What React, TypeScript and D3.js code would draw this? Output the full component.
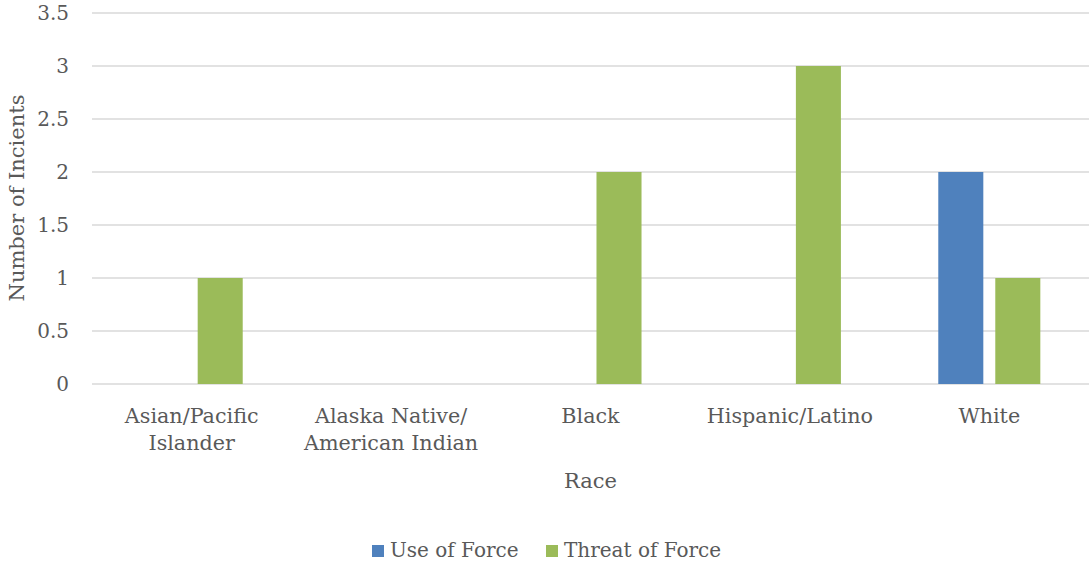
import React, { useEffect, useRef } from "react";
import * as d3 from "d3";

const categories = [
  "Asian/Pacific\nIslander",
  "Alaska Native/\nAmerican Indian",
  "Black",
  "Hispanic/Latino",
  "White",
];
const seriesNames = ["Use of Force", "Threat of Force"];
const useOfForce = [0, 0, 0, 0, 2];
const threatOfForce = [1, 0, 2, 3, 1];
const yTicks = [0, 0.5, 1, 1.5, 2, 2.5, 3, 3.5];
const colors = ["#4F81BD", "#9BBB59"];

const App: React.FC = () => {
  const svgRef = useRef<SVGSVGElement>(null);

  useEffect(() => {
    if (!svgRef.current) return;
    const width = 1089;
    const height = 564;
    const margin = { top: 13, right: 0, bottom: 180, left: 92 };
    const innerWidth = width - margin.left - margin.right;
    const innerHeight = height - margin.top - margin.bottom;
    const font = "'DejaVu Serif', serif";
    const textColor = "#595959";

    d3.select(svgRef.current).selectAll("*").remove();
    const root = d3
      .select(svgRef.current)
      .attr("width", width)
      .attr("height", height)
      .style("font-family", font);

    const svg = root
      .append("g")
      .attr("transform", `translate(${margin.left},${margin.top})`);

    const x = d3.scaleBand<string>().domain(categories).range([0, innerWidth]);
    const xSeries = d3
      .scaleBand<string>()
      .domain(seriesNames)
      .range([0, x.bandwidth()])
      .paddingInner(0.21)
      .paddingOuter(0.854);
    const y = d3.scaleLinear().domain([0, 3.5]).range([innerHeight, 0]);

    // gridlines
    svg
      .selectAll("line.grid")
      .data(yTicks)
      .enter()
      .append("line")
      .attr("x1", 0)
      .attr("x2", innerWidth)
      .attr("y1", (d) => y(d))
      .attr("y2", (d) => y(d))
      .attr("stroke", "#D9D9D9")
      .attr("stroke-width", 1.5);

    // y tick labels
    svg
      .selectAll("text.ytick")
      .data(yTicks)
      .enter()
      .append("text")
      .attr("x", -23)
      .attr("y", (d) => y(d))
      .attr("dy", "0.36em")
      .attr("text-anchor", "end")
      .attr("fill", textColor)
      .style("font-size", "20px")
      .text((d) => String(d));

    // bars
    const seriesValues = [useOfForce, threatOfForce];
    seriesNames.forEach((name, si) => {
      svg
        .append("g")
        .selectAll("rect")
        .data(categories.map((c, i) => ({ c, v: seriesValues[si][i] })))
        .enter()
        .filter((d) => d.v > 0)
        .append("rect")
        .attr("x", (d) => (x(d.c) || 0) + (xSeries(name) || 0))
        .attr("width", xSeries.bandwidth())
        .attr("y", (d) => y(d.v))
        .attr("height", (d) => innerHeight - y(d.v))
        .attr("fill", colors[si]);
    });

    // x labels
    categories.forEach((c) => {
      const cx = (x(c) || 0) + x.bandwidth() / 2;
      const t = svg
        .append("text")
        .attr("x", cx)
        .attr("y", innerHeight + 39)
        .attr("text-anchor", "middle")
        .attr("fill", textColor)
        .style("font-size", "20.7px");
      c.split("\n").forEach((line, li) => {
        t.append("tspan")
          .attr("x", cx)
          .attr("dy", li === 0 ? 0 : 27)
          .text(line);
      });
    });

    // x axis title
    root
      .append("text")
      .attr("x", margin.left + innerWidth / 2)
      .attr("y", 488)
      .attr("text-anchor", "middle")
      .attr("fill", textColor)
      .style("font-size", "21px")
      .text("Race");

    // y axis title
    root
      .append("text")
      .attr("transform", "rotate(-90)")
      .attr("x", -198)
      .attr("y", 24)
      .attr("text-anchor", "middle")
      .attr("fill", textColor)
      .style("font-size", "21px")
      .text("Number of Incients");

    // legend
    const legendX = [372, 546];
    seriesNames.forEach((name, i) => {
      const g = root.append("g").attr("transform", `translate(${legendX[i]},545)`);
      g.append("rect").attr("width", 12).attr("height", 12).attr("fill", colors[i]);
      g.append("text")
        .attr("x", 18)
        .attr("y", 12)
        .attr("fill", textColor)
        .style("font-size", "20px")
        .text(name);
    });
  }, []);

  return (
    <svg
      ref={svgRef}
      style={{ position: "absolute", left: 0, top: 0, display: "block" }}
    ></svg>
  );
};

export default App;
